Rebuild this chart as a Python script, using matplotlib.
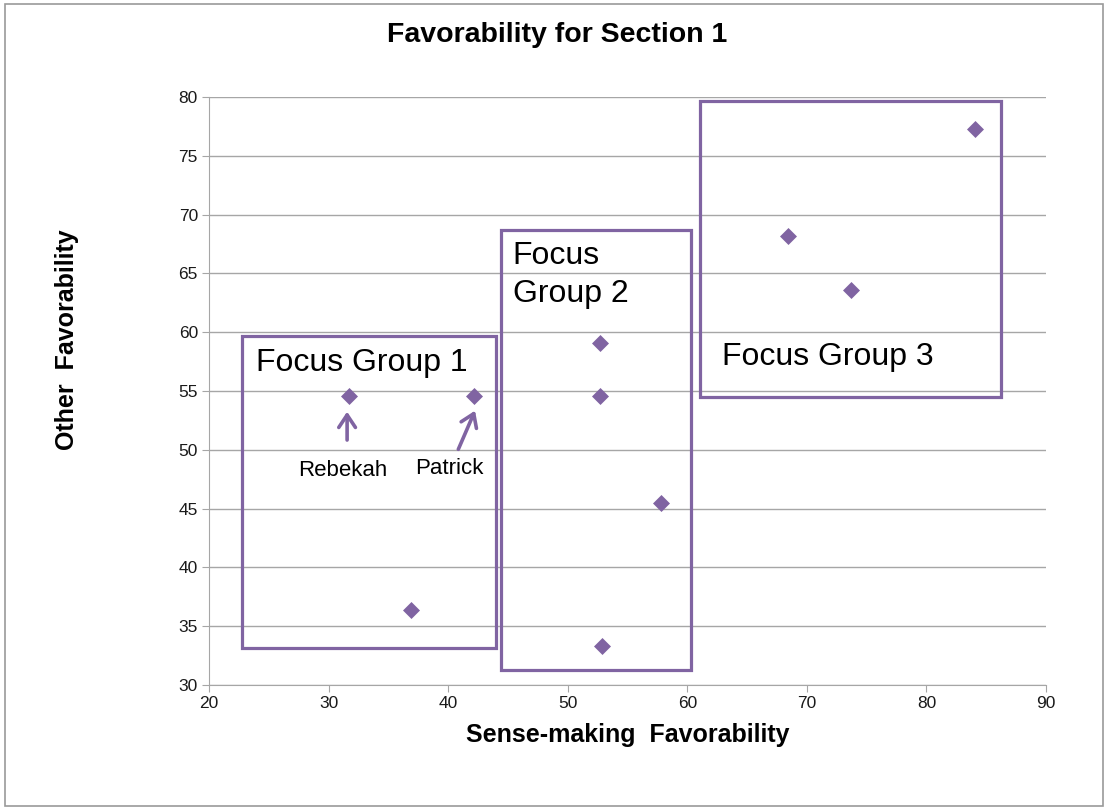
import matplotlib
matplotlib.use("Agg")
import matplotlib.pyplot as plt
from matplotlib.patches import Rectangle

plt.rcParams['font.family'] = ['Liberation Sans', 'DejaVu Sans']

sense = [31.7, 42.2, 36.9, 52.7, 52.7, 57.8, 52.9, 68.4, 73.7, 84.1]
other = [54.6, 54.6, 36.4, 59.1, 54.6, 45.5, 33.3, 68.2, 63.6, 77.3]

groups = ["Focus Group 1", "Focus\nGroup 2", "Focus Group 3"]
group_boxes = [(22.8, 33.15, 44.0, 59.7), (44.4, 31.3, 60.3, 68.7), (61.1, 54.5, 86.2, 79.66)]
group_label_pos = [(23.9, 57.35), (45.4, 64.86), (62.9, 57.9)]

names = ["Rebekah", "Patrick"]
name_tips = [(31.55, 53.24), (42.25, 53.33)]
name_tails = [(31.55, 50.83), (40.85, 50.04)]
name_text = [(31.2, 48.2), (40.07, 48.45)]

purple = '#8064A2'
gray = '#A6A6A6'

fig = plt.figure(figsize=(11.07, 8.08), dpi=100)
fig.patches.append(Rectangle((5/1107, 2/808), 1098/1107, 802/808, transform=fig.transFigure,
                             fill=False, edgecolor='#9A9A9A', linewidth=1.2))
ax = fig.add_axes([209/1107, 1-685/808, (1046-209)/1107, (685-97)/808])
ax.set_xlim(20, 90)
ax.set_ylim(30, 80)
ax.set_xticks(range(20, 91, 10))
ax.set_yticks(range(30, 81, 5))
ax.grid(axis='y', color=gray, linewidth=1)
ax.set_axisbelow(True)
for s in ['top', 'right']:
    ax.spines[s].set_visible(False)
for s in ['left', 'bottom']:
    ax.spines[s].set_color(gray)
ax.tick_params(direction='out', length=5, color=gray, labelsize=12.5, pad=3,
               labelcolor='#1a1a1a')

for (x0, y0, x1, y1) in group_boxes:
    ax.add_patch(Rectangle((x0, y0), x1 - x0, y1 - y0, fill=False, edgecolor=purple,
                           linewidth=2.3, zorder=3))
for lab, (tx, ty) in zip(groups, group_label_pos):
    ax.text(tx, ty, lab, fontsize=23, ha='left', va='center', linespacing=1.38, zorder=5)

ax.scatter(sense, other, marker='D', s=75, color=purple, zorder=4, linewidths=0)

for nm, p, t, tp in zip(names, name_tips, name_tails, name_text):
    ax.annotate('', xy=p, xytext=t,
                arrowprops=dict(arrowstyle='->,head_length=0.45,head_width=0.3',
                                color=purple, lw=2.6, mutation_scale=20,
                                shrinkA=0, shrinkB=0))
    ax.text(tp[0], tp[1], nm, fontsize=16, ha='center', va='center')

fig.text(557/1107, 1-35/808, "Favorability for Section 1", ha='center', va='center',
         fontsize=20.5, fontweight='bold')
fig.text(628/1107, 1-735/808, "Sense-making  Favorability", ha='center', va='center',
         fontsize=18, fontweight='bold')
fig.text(67/1107, 1-340/808, "Other  Favorability", rotation=90, ha='center', va='center',
         fontsize=18, fontweight='bold')

fig.savefig("out.png", dpi=100)
